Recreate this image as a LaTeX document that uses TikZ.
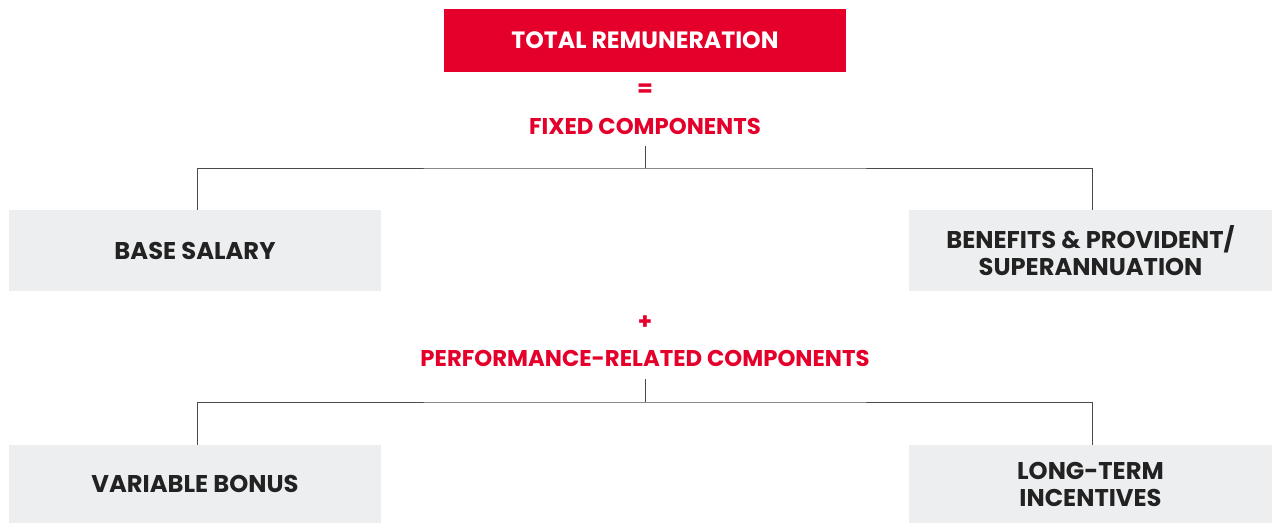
\documentclass[tikz,border=0pt]{standalone}
\usepackage{fontspec}
\setmainfont{Poppins}
\definecolor{brandred}{HTML}{E4002B}
\definecolor{boxgray}{HTML}{EDEEF0}
\definecolor{txtdark}{HTML}{222222}
\definecolor{linegray}{HTML}{4A4A4A}
\begin{document}
\begin{tikzpicture}[x=1pt,y=-1pt,
  redbox/.style={fill=brandred, text=white, font=\fontsize{23.6}{27}\selectfont\bfseries, inner sep=0pt},
  graybox/.style={fill=boxgray, text=txtdark, font=\fontsize{24.2}{27}\selectfont\bfseries, inner sep=0pt, align=center},
  redtext/.style={text=brandred, font=\fontsize{22.8}{26}\selectfont\bfseries, inner sep=0pt},
  conn/.style={draw=linegray, line width=1pt}]
\useasboundingbox (0,0) rectangle (1272,523);
\node[redbox, minimum width=402pt, minimum height=63pt] (total) at (645,40.5) {TOTAL REMUNERATION};
\node[redtext] (eq) at (645,90) {=};
\node[redtext] (fixed) at (645,126) {FIXED COMPONENTS};
\node[graybox, minimum width=372pt, minimum height=81pt] (base) at (195,250.5) {BASE SALARY};
\node[graybox, minimum width=363pt, minimum height=81pt] (ben) at (1090.5,250.5) {BENEFITS \& PROVIDENT/\\SUPERANNUATION};
\node[redtext] (plus) at (645,323) {+};
\node[redtext] (perf) at (645,358) {PERFORMANCE-RELATED COMPONENTS};
\node[graybox, minimum width=372pt, minimum height=78pt] (var) at (195,484) {VARIABLE BONUS};
\node[graybox, minimum width=363pt, minimum height=78pt] (lti) at (1090.5,484) {LONG-TERM\\INCENTIVES};
\coordinate (j1) at (645,168);
\coordinate (j2) at (645,402);
\draw[conn] (645,146) -- (j1);
\draw[conn] (base.north -| 197,0) |- (j1) -| (ben.north -| 1092,0);
\draw[conn] (645,379) -- (j2);
\draw[conn] (var.north -| 197,0) |- (j2) -| (lti.north -| 1092,0);
\end{tikzpicture}
\end{document}
